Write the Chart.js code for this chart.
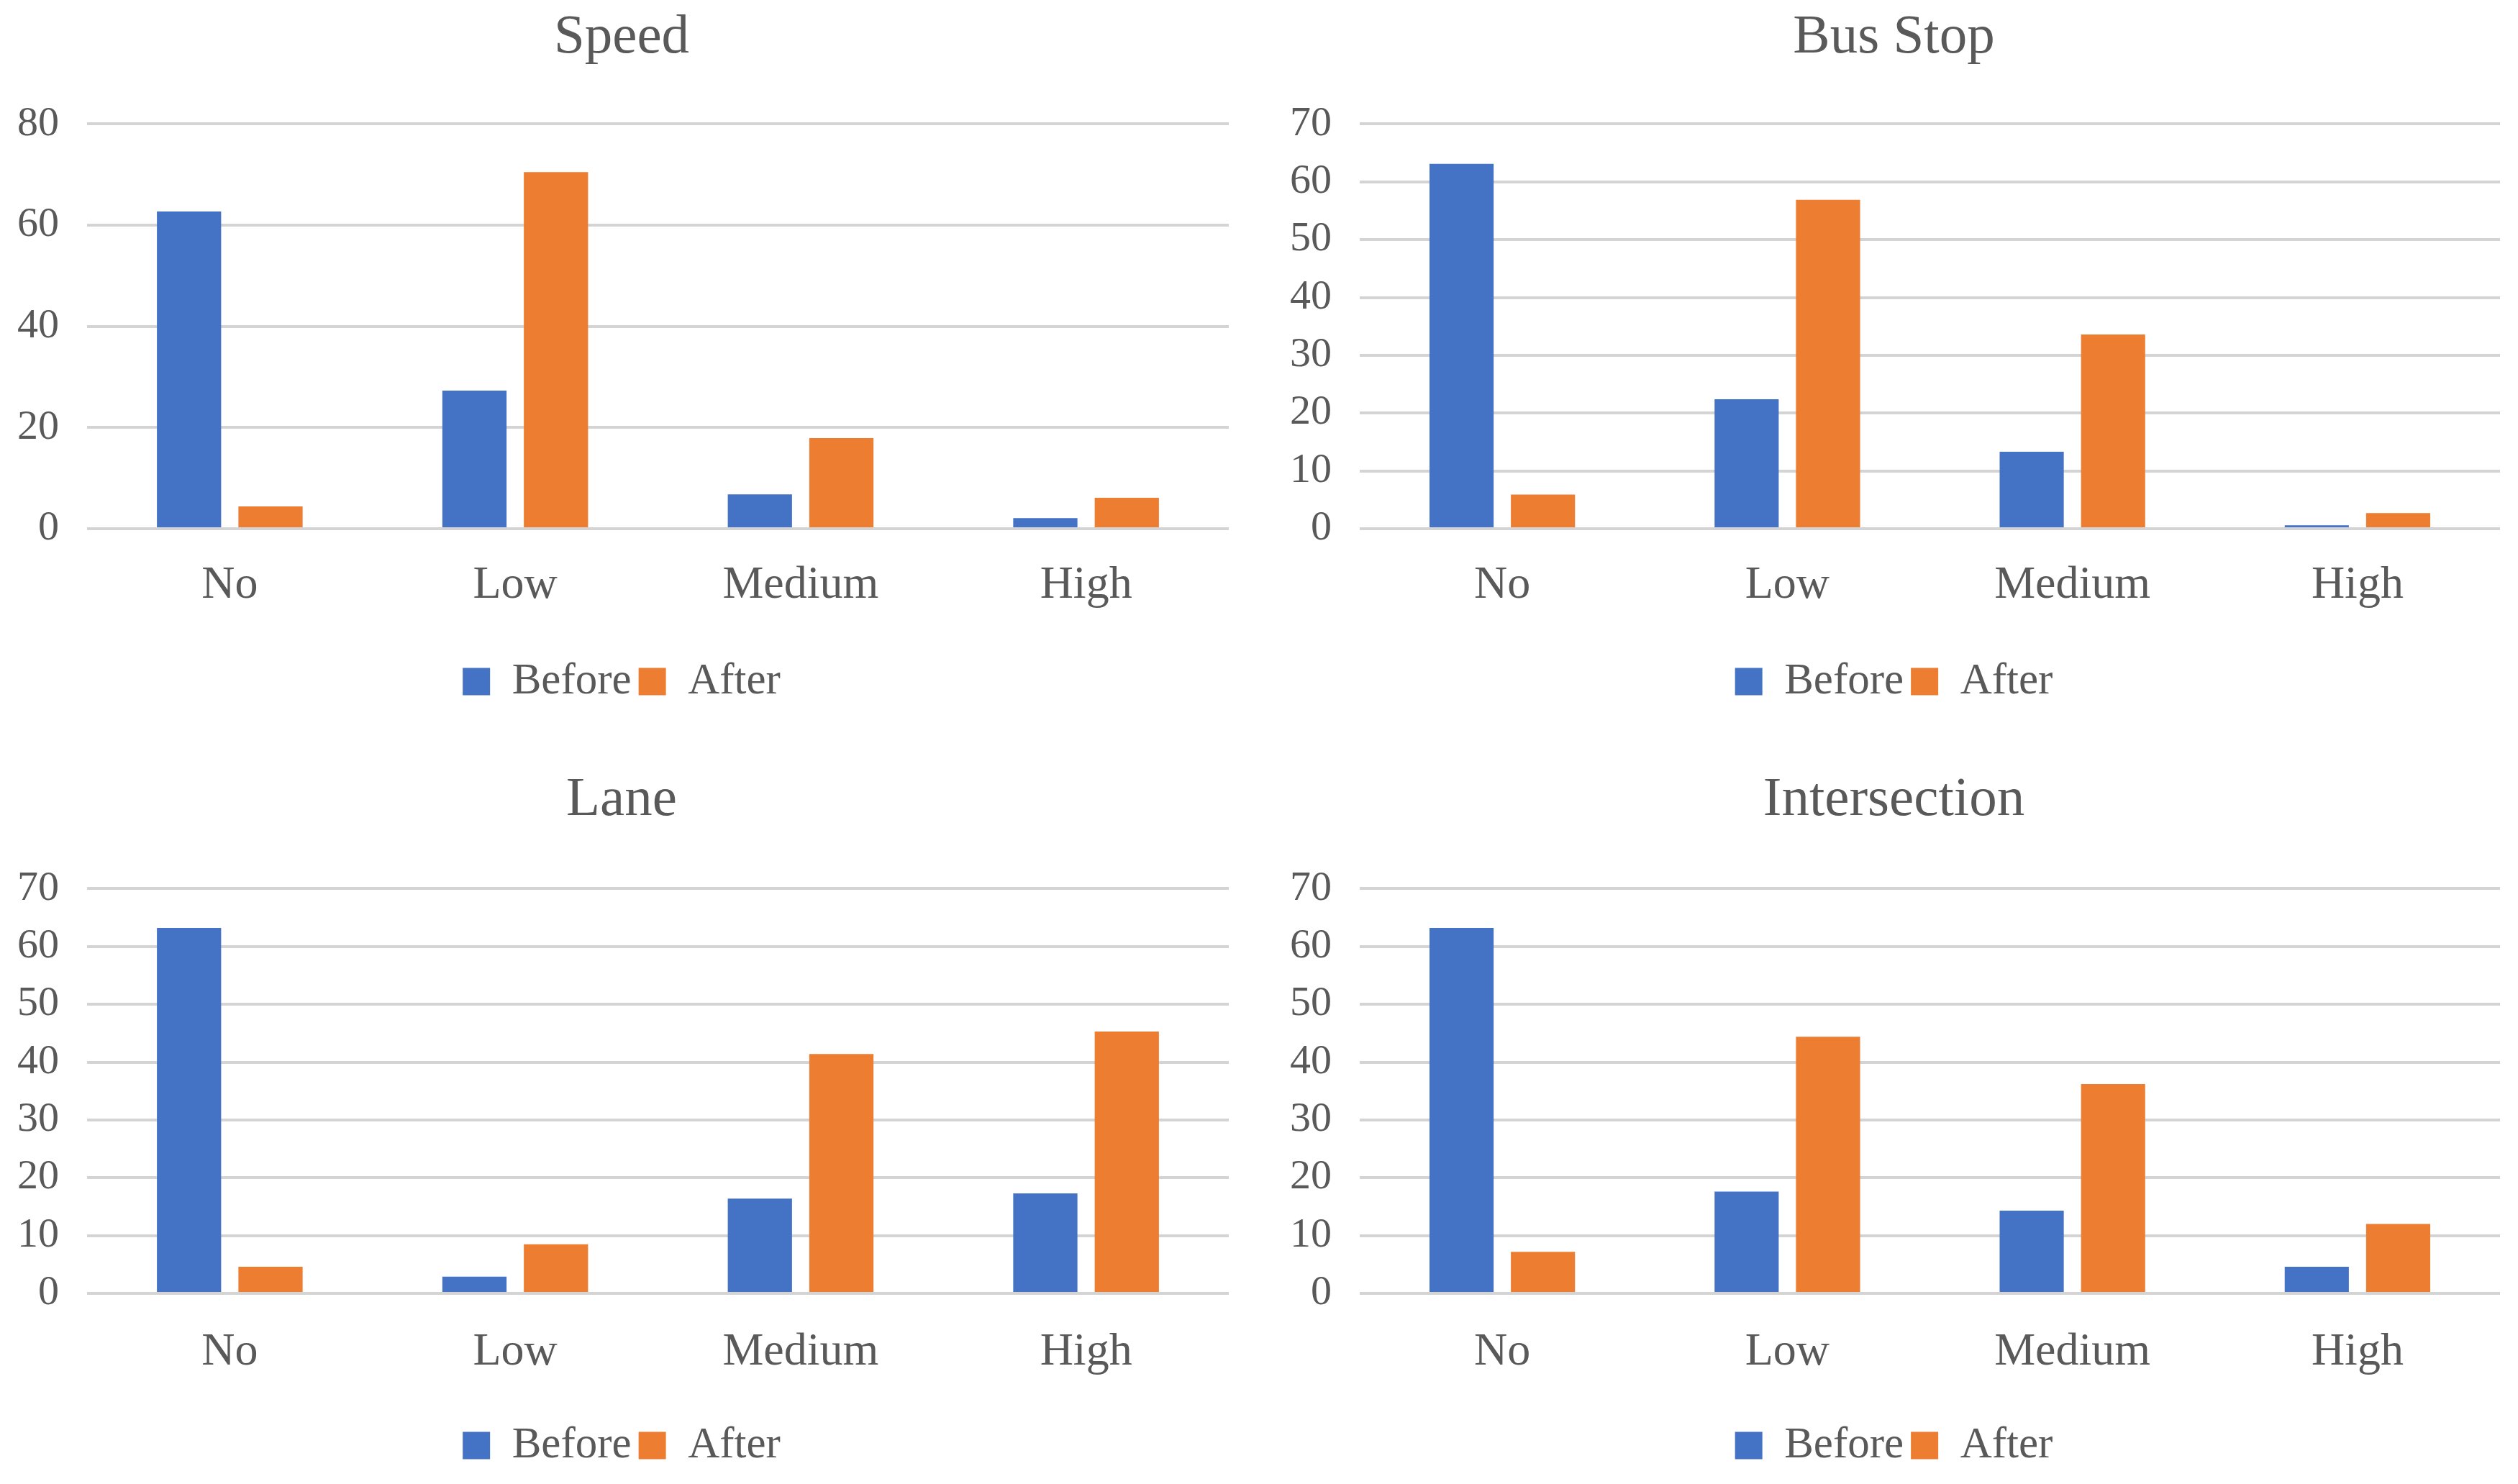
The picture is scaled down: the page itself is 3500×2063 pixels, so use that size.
<!DOCTYPE html>
<html>
<head>
<meta charset="utf-8">
<script src="https://cdn.jsdelivr.net/npm/chart.js@4"></script>
<style>
  html, body { margin: 0; padding: 0; background: #fff; overflow: hidden; }
  .panel { position: absolute; }
</style>
</head>
<body>
<div class="panel" style="left:0;top:0"><canvas id="speedChart" width="1750" height="1030"></canvas></div>
<div class="panel" style="left:1750px;top:0"><canvas id="busStopChart" width="1750" height="1030"></canvas></div>
<div class="panel" style="left:0;top:1030px"><canvas id="laneChart" width="1750" height="1033"></canvas></div>
<div class="panel" style="left:1750px;top:1030px"><canvas id="intersectionChart" width="1750" height="1033"></canvas></div>
<script>
/* ── data ── */
const levels = ['No', 'Low', 'Medium', 'High'];

const speedBefore = [62.7, 27.3, 6.8, 2.1];
const speedAfter  = [4.4, 70.5, 17.9, 6.1];

const busStopBefore = [63.1, 22.4, 13.3, 0.6];
const busStopAfter  = [5.9, 56.9, 33.6, 2.7];

const laneBefore = [63.2, 2.9, 16.4, 17.3];
const laneAfter  = [4.6, 8.5, 41.4, 45.3];

const intersectionBefore = [63.2, 17.6, 14.3, 4.6];
const intersectionAfter  = [7.2, 44.4, 36.2, 12.0];

const COLORS = {
  before: '#4472C4',
  after:  '#ED7D31',
  grid:   '#D4D4D4',
  text:   '#595959',
};

/* ── defaults ── */
Chart.defaults.font.family = "'Liberation Serif', 'Times New Roman', serif";
Chart.defaults.font.size   = 60;
Chart.defaults.color       = COLORS.text;

/* ── one grouped bar panel ── */
// g = layout numbers for this panel (pixels in canvas space)
function renderPanel(canvasId, title, before, after, yMax, yStep, g) {
  new Chart(document.getElementById(canvasId), {
    type: 'bar',
    data: {
      labels: levels,
      datasets: [
        { label: 'Before', data: before, backgroundColor: COLORS.before,
          categoryPercentage: 0.571, barPercentage: 0.788 },
        { label: 'After',  data: after,  backgroundColor: COLORS.after,
          categoryPercentage: 0.571, barPercentage: 0.788 },
      ],
    },
    options: {
      responsive: false, animation: false,
      layout: { padding: { left: g.padLeft, right: g.padRight, top: 0, bottom: g.padBottom } },
      plugins: {
        title: {
          display: true, text: title, color: COLORS.text,
          font: { size: 77, weight: 'normal' },
          padding: { top: g.titleTop, bottom: g.titleBottom },
        },
        legend: {
          position: 'bottom',
          labels: { boxWidth: 38, boxHeight: 38, padding: 10, font: { size: 61 } },
        },
        tooltip: { enabled: false },
      },
      scales: {
        x: {
          grid: { display: false }, border: { display: false },
          ticks: { padding: g.xPad, font: { size: 64 } },
          afterFit: s => { s.height = g.xHeight; },
        },
        y: {
          min: 0, max: yMax,
          grid: { color: COLORS.grid, lineWidth: 4, drawTicks: false },
          border: { display: false },
          ticks: { stepSize: yStep, padding: 39, font: { size: 58 } },
          afterFit: s => { s.width = g.yWidth; },
        },
      },
    },
  });
}

const TOP_LEFT  = { padLeft: 20, padRight: 42, padBottom: 42, yWidth: 101, xHeight: 172, xPad: 33, titleTop: 7,  titleBottom: 73 };
const TOP_RIGHT = { padLeft: 40, padRight: 25, padBottom: 42, yWidth: 100, xHeight: 172, xPad: 33, titleTop: 7,  titleBottom: 73 };
const BOT_LEFT  = { padLeft: 20, padRight: 42, padBottom: 13, yWidth: 101, xHeight: 171, xPad: 36, titleTop: 37, titleBottom: 76 };
const BOT_RIGHT = { padLeft: 40, padRight: 25, padBottom: 13, yWidth: 100, xHeight: 171, xPad: 36, titleTop: 37, titleBottom: 76 };

renderPanel('speedChart',        'Speed',        speedBefore,        speedAfter,        80, 20, TOP_LEFT);
renderPanel('busStopChart',      'Bus Stop',     busStopBefore,      busStopAfter,      70, 10, TOP_RIGHT);
renderPanel('laneChart',         'Lane',         laneBefore,         laneAfter,         70, 10, BOT_LEFT);
renderPanel('intersectionChart', 'Intersection', intersectionBefore, intersectionAfter, 70, 10, BOT_RIGHT);
</script>
</body>
</html>
